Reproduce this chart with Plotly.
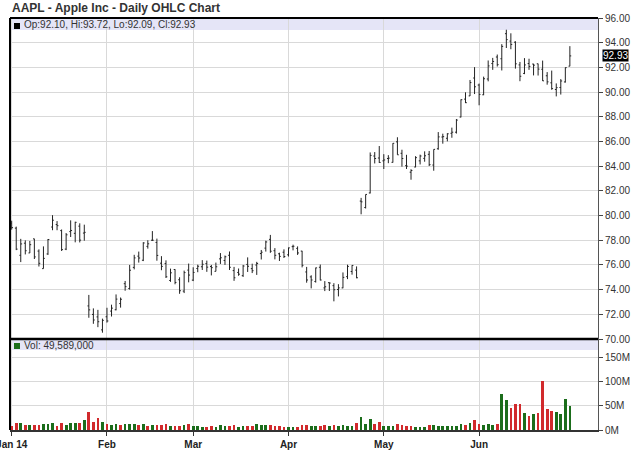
import plotly.graph_objects as go

# ---------------- data (AAPL daily, Jan-Jun 2014, split-adjusted prices) ----------------
dates_jan = ["2014-01-02", "2014-01-03", "2014-01-06", "2014-01-07", "2014-01-08", "2014-01-09",
             "2014-01-10", "2014-01-13", "2014-01-14", "2014-01-15", "2014-01-16", "2014-01-17",
             "2014-01-21", "2014-01-22", "2014-01-23", "2014-01-24", "2014-01-27", "2014-01-28",
             "2014-01-29", "2014-01-30", "2014-01-31"]
dates_feb = ["2014-02-03", "2014-02-04", "2014-02-05", "2014-02-06", "2014-02-07", "2014-02-10",
             "2014-02-11", "2014-02-12", "2014-02-13", "2014-02-14", "2014-02-18", "2014-02-19",
             "2014-02-20", "2014-02-21", "2014-02-24", "2014-02-25", "2014-02-26", "2014-02-27",
             "2014-02-28"]
dates_mar = ["2014-03-03", "2014-03-04", "2014-03-05", "2014-03-06", "2014-03-07", "2014-03-10",
             "2014-03-11", "2014-03-12", "2014-03-13", "2014-03-14", "2014-03-17", "2014-03-18",
             "2014-03-19", "2014-03-20", "2014-03-21", "2014-03-24", "2014-03-25", "2014-03-26",
             "2014-03-27", "2014-03-28", "2014-03-31"]
dates_apr = ["2014-04-01", "2014-04-02", "2014-04-03", "2014-04-04", "2014-04-07", "2014-04-08",
             "2014-04-09", "2014-04-10", "2014-04-11", "2014-04-14", "2014-04-15", "2014-04-16",
             "2014-04-17", "2014-04-21", "2014-04-22", "2014-04-23", "2014-04-24", "2014-04-25",
             "2014-04-28", "2014-04-29", "2014-04-30"]
dates_may = ["2014-05-01", "2014-05-02", "2014-05-05", "2014-05-06", "2014-05-07", "2014-05-08",
             "2014-05-09", "2014-05-12", "2014-05-13", "2014-05-14", "2014-05-15", "2014-05-16",
             "2014-05-19", "2014-05-20", "2014-05-21", "2014-05-22", "2014-05-23", "2014-05-27",
             "2014-05-28", "2014-05-29", "2014-05-30"]
dates_jun = ["2014-06-02", "2014-06-03", "2014-06-04", "2014-06-05", "2014-06-06", "2014-06-09",
             "2014-06-10", "2014-06-11", "2014-06-12", "2014-06-13", "2014-06-16", "2014-06-17",
             "2014-06-18", "2014-06-19", "2014-06-20", "2014-06-23", "2014-06-24", "2014-06-25",
             "2014-06-26", "2014-06-27", "2014-06-30"]

open_jan = [79.38, 78.98, 76.78, 77.76, 76.97, 78.11, 77.12, 75.70, 76.89, 79.07, 79.27, 78.78,
            77.28, 78.70, 78.56, 79.14, 78.58, 72.68, 71.99, 71.79, 70.74]
high_jan = [79.58, 79.10, 78.11, 77.99, 77.94, 78.12, 77.26, 77.50, 78.10, 80.03, 79.55, 78.87,
            78.58, 79.61, 79.50, 79.37, 79.26, 73.57, 72.48, 72.36, 71.65]
low_jan = [78.86, 77.20, 76.23, 76.85, 76.96, 76.48, 75.87, 75.70, 76.81, 78.81, 78.81, 77.13,
           77.20, 78.26, 77.83, 77.82, 77.96, 71.72, 71.23, 70.96, 70.51]
close_jan = [79.02, 77.28, 77.70, 77.15, 77.64, 76.65, 76.13, 76.53, 78.06, 79.62, 79.18, 77.24,
             78.44, 78.79, 79.45, 78.01, 78.64, 72.36, 71.54, 71.40, 71.51]

open_feb = [71.80, 72.26, 72.37, 72.87, 74.48, 74.09, 75.80, 76.71, 76.38, 77.50, 78.00, 77.82,
            76.14, 76.11, 74.74, 75.63, 74.80, 73.88, 75.58]
high_feb = [72.53, 72.78, 73.61, 73.36, 74.70, 76.00, 76.82, 77.08, 77.84, 78.00, 78.74, 78.13,
            76.71, 76.37, 75.70, 75.65, 75.00, 75.54, 76.11]
low_feb = [71.33, 71.82, 72.32, 72.54, 73.91, 74.00, 75.64, 76.19, 76.31, 77.32, 77.94, 76.34,
           75.57, 74.94, 74.63, 74.43, 73.66, 73.72, 74.59]
close_feb = [71.46, 72.50, 73.23, 73.22, 74.24, 75.57, 76.57, 76.56, 77.78, 77.71, 78.00, 76.77,
             75.88, 75.04, 75.36, 74.58, 73.91, 75.38, 75.18]

open_mar = [74.77, 75.71, 75.85, 76.11, 75.87, 75.48, 76.49, 76.36, 76.78, 75.54, 75.39, 75.13,
            76.04, 75.70, 75.99, 76.92, 77.36, 78.07, 77.15, 76.90, 77.03]
high_mar = [75.81, 76.02, 76.39, 76.35, 76.00, 76.19, 76.96, 76.76, 77.09, 75.84, 75.71, 76.00,
            76.61, 76.10, 76.25, 77.21, 77.96, 78.43, 77.36, 76.99, 77.26]
low_mar = [74.69, 75.41, 75.59, 75.44, 75.15, 75.48, 76.08, 76.00, 75.59, 74.71, 75.12, 75.03,
           75.43, 75.34, 75.19, 76.44, 77.08, 76.98, 76.45, 76.32, 76.56]
close_mar = [75.39, 75.89, 76.05, 75.82, 75.78, 75.85, 76.58, 76.66, 75.81, 74.96, 75.25, 75.91,
             75.89, 75.53, 76.12, 77.03, 77.86, 77.11, 76.78, 76.69, 76.68]

open_apr = [76.82, 77.48, 77.34, 77.12, 75.43, 75.03, 74.66, 75.81, 74.14, 74.56, 74.32, 74.01,
            74.14, 75.05, 75.47, 75.58, 81.17, 80.65, 81.83, 84.82, 84.66]
high_apr = [77.41, 77.64, 77.50, 77.14, 75.84, 75.16, 75.78, 76.03, 74.69, 74.59, 74.52, 74.44,
            75.39, 76.02, 75.98, 75.88, 81.43, 81.71, 85.11, 85.14, 85.63]
low_apr = [76.68, 77.18, 76.81, 75.80, 74.56, 74.10, 74.57, 74.74, 73.88, 73.89, 73.05, 73.45,
           74.11, 74.85, 75.21, 74.92, 80.10, 80.57, 81.79, 84.22, 84.26]
close_apr = [77.38, 77.51, 76.97, 75.97, 74.78, 74.78, 75.76, 74.78, 74.23, 74.53, 73.99, 74.14,
             74.99, 75.88, 75.96, 74.96, 81.11, 81.71, 84.87, 84.62, 84.30]

open_may = [84.43, 84.62, 84.31, 85.97, 85.04, 84.04, 83.51, 83.93, 84.43, 84.63, 84.96, 84.09,
            85.41, 86.36, 86.26, 86.66, 86.75, 87.98, 89.43, 89.69, 91.14]
high_may = [84.97, 84.89, 85.86, 86.34, 85.33, 84.92, 83.75, 84.81, 84.93, 85.20, 85.23, 85.36,
            86.76, 86.63, 86.67, 87.12, 87.82, 89.41, 89.98, 90.98, 92.02]
low_may = [83.77, 84.24, 84.29, 84.92, 83.96, 83.77, 82.90, 83.91, 84.14, 84.36, 84.01, 83.63,
           85.33, 85.82, 86.01, 86.30, 86.64, 87.95, 89.11, 89.68, 89.84]
close_may = [84.50, 84.65, 85.85, 84.92, 84.62, 84.00, 83.65, 84.69, 84.82, 84.84, 84.12, 85.36,
             86.37, 86.39, 86.62, 86.75, 87.73, 89.38, 89.14, 90.77, 90.43]

open_jun = [90.57, 89.78, 91.06, 92.31, 92.84, 92.70, 94.73, 94.13, 94.04, 92.20, 91.51, 92.31,
            92.27, 92.29, 91.85, 91.32, 90.75, 90.21, 90.37, 90.82, 92.10]
high_jun = [90.69, 91.25, 92.56, 92.77, 93.04, 93.88, 95.05, 94.76, 94.12, 92.44, 92.75, 92.70,
            92.29, 92.30, 92.55, 91.62, 91.74, 90.70, 91.05, 92.00, 93.72]
low_jun = [88.93, 89.75, 90.87, 91.80, 92.07, 91.75, 93.57, 93.47, 91.90, 90.88, 91.45, 91.80,
           91.35, 91.34, 90.90, 90.60, 90.19, 89.65, 89.80, 90.77, 92.09]
close_jun = [89.81, 91.08, 92.12, 92.48, 92.22, 93.70, 94.25, 93.86, 92.29, 91.28, 92.20, 92.08,
             92.18, 91.86, 90.91, 90.83, 90.28, 90.36, 90.90, 91.98, 92.93]

# volume in millions of shares
vol_jan = [8.4, 14.0, 14.7, 11.3, 9.7, 10.3, 10.6, 13.0, 11.5, 14.1, 8.3, 15.5, 11.0, 13.6, 14.4,
           15.5, 20.0, 37.9, 17.0, 24.2, 16.2]
vol_feb = [12.5, 10.5, 11.5, 9.4, 12.8, 12.6, 11.6, 10.4, 11.8, 8.6, 11.2, 10.6, 11.0, 12.6, 9.0,
           8.2, 9.2, 11.0, 12.3]
vol_mar = [8.2, 7.8, 7.2, 6.6, 7.9, 6.6, 9.4, 7.3, 8.4, 9.9, 6.6, 8.4, 8.2, 7.5, 11.5, 11.3, 9.6,
           9.8, 8.8, 7.8, 6.1]
vol_apr = [7.2, 6.7, 5.8, 9.5, 10.5, 8.5, 7.3, 8.6, 9.8, 7.8, 10.6, 7.8, 9.5, 7.7, 8.0, 14.0, 26.5,
           12.0, 23.0, 12.3, 16.5]
vol_may = [8.1, 8.6, 8.0, 11.5, 10.7, 8.3, 8.1, 6.7, 5.9, 6.5, 9.5, 11.0, 8.8, 7.6, 7.3, 7.6, 8.6,
           12.0, 10.4, 13.7, 20.8]
vol_jun = [13.2, 10.5, 12.0, 10.8, 12.5, 75.4, 62.8, 45.7, 54.7, 54.5, 35.6, 29.7, 33.6, 35.5,
           100.9, 43.7, 39.0, 36.9, 32.6, 64.0, 49.589]

month_tick_dates = ["2014-01-02", "2014-02-03", "2014-03-03", "2014-04-01", "2014-05-01", "2014-06-02"]
month_tick_labels = ["Jan 14", "Feb", "Mar", "Apr", "May", "Jun"]
price_ticks = [70, 72, 74, 76, 78, 80, 82, 84, 86, 88, 90, 92, 94, 96]
volume_ticks = [0, 50, 100, 150]

dates = dates_jan + dates_feb + dates_mar + dates_apr + dates_may + dates_jun
opens = open_jan + open_feb + open_mar + open_apr + open_may + open_jun
highs = high_jan + high_feb + high_mar + high_apr + high_may + high_jun
lows = low_jan + low_feb + low_mar + low_apr + low_may + low_jun
closes = close_jan + close_feb + close_mar + close_apr + close_may + close_jun
volumes = vol_jan + vol_feb + vol_mar + vol_apr + vol_may + vol_jun

# ---------------- styling ----------------
GREEN = "#1b6d1b"
RED = "#d12a2c"
GRID = "#d9d9d9"
BAND = "#e5e5f7"
W, H = 640, 468
ML, MR, MT, MB = 10, 42, 18, 38
plot_h = H - MT - MB
split = (H - MB - 339) / plot_h  # boundary between volume and price panels

vol_colors = []
for i, c in enumerate(closes):
    ref = closes[i - 1] if i > 0 else opens[i]
    vol_colors.append(GREEN if c >= ref else RED)

fig = go.Figure()
fig.add_trace(go.Ohlc(
    x=dates, open=opens, high=highs, low=lows, close=closes,
    xaxis="x", yaxis="y", tickwidth=0.3,
    increasing=dict(line=dict(color="#222222", width=1)),
    decreasing=dict(line=dict(color="#222222", width=1)),
    showlegend=False, hoverinfo="skip",
))
fig.add_trace(go.Bar(
    x=dates, y=volumes, marker=dict(color=vol_colors, line=dict(width=0)),
    xaxis="x", yaxis="y2", width=0.6, showlegend=False, hoverinfo="skip",
))

tick_font = dict(family="Arial, Liberation Sans, sans-serif", size=10, color="#333333")

fig.update_layout(
    width=W, height=H,
    margin=dict(l=ML, r=MR, t=MT, b=MB, autoexpand=False),
    paper_bgcolor="white", plot_bgcolor="white",
    bargap=0,
    xaxis=dict(
        type="category", anchor="y2", domain=[0, 1],
        range=[-0.37, 129.2],
        tickmode="array", tickvals=month_tick_dates,
        ticktext=["<b>%s</b>" % t for t in month_tick_labels],
        tickfont=dict(family="Arial, Liberation Sans, sans-serif", size=10, color="#222222"),
        showgrid=True, gridcolor=GRID, gridwidth=1,
        ticks="outside", ticklen=4, tickcolor="#333333",
        showline=True, linecolor="#333333", linewidth=2,
        rangeslider=dict(visible=False), fixedrange=True,
        zeroline=False,
    ),
    yaxis=dict(
        domain=[split, 1], anchor="x", side="right",
        range=[70, 96], tickmode="array", tickvals=price_ticks,
        tickformat=".2f", tickfont=tick_font,
        showgrid=True, gridcolor=GRID, gridwidth=1,
        ticks="outside", ticklen=4, tickcolor="#444444",
        showline=True, linecolor="#555555", linewidth=1,
        zeroline=False, fixedrange=True,
    ),
    yaxis2=dict(
        domain=[0, split], anchor="x", side="right",
        range=[0, 188], tickmode="array", tickvals=volume_ticks,
        ticktext=["%dM" % v for v in volume_ticks], tickfont=tick_font,
        showgrid=True, gridcolor=GRID, gridwidth=1,
        ticks="outside", ticklen=4, tickcolor="#444444",
        showline=True, linecolor="#555555", linewidth=1,
        zeroline=False, fixedrange=True,
    ),
)

band_price = 12 / plot_h
band_vol = 11 / plot_h
fig.add_shape(type="rect", xref="paper", yref="paper", x0=0, x1=1, y0=1 - band_price, y1=1,
              fillcolor=BAND, line=dict(width=0), layer="below")
fig.add_shape(type="rect", xref="paper", yref="paper", x0=0, x1=1, y0=split - band_vol, y1=split,
              fillcolor=BAND, line=dict(width=0), layer="below")
# frame lines
fig.add_shape(type="line", xref="paper", yref="paper", x0=0, x1=0, y0=0, y1=1,
              line=dict(color="#000000", width=2))
fig.add_shape(type="line", xref="paper", yref="paper", x0=0, x1=1, y0=1, y1=1,
              line=dict(color="#000000", width=2))
fig.add_shape(type="line", xref="paper", yref="paper", x0=0, x1=1, y0=split, y1=split,
              line=dict(color="#000000", width=2.5))
# legend marker squares (pixel-sized)
fig.add_shape(type="rect", xref="paper", yref="paper", xsizemode="pixel", ysizemode="pixel",
              xanchor=0, yanchor=1, x0=4, x1=10, y0=-5, y1=-11,
              fillcolor="#000000", line=dict(width=0))
fig.add_shape(type="rect", xref="paper", yref="paper", xsizemode="pixel", ysizemode="pixel",
              xanchor=0, yanchor=split, x0=4, x1=10, y0=-4, y1=-10,
              fillcolor=GREEN, line=dict(width=0))

legend_text = ("Op:%.2f, Hi:%.2f, Lo:%.2f, Cl:%.2f"
               % (opens[-1], highs[-1], lows[-1], closes[-1]))
vol_text = "Vol: %s" % format(int(round(volumes[-1] * 1e6)), ",")

fig.add_annotation(text="<b>AAPL - Apple Inc - Daily OHLC Chart</b>", xref="paper", yref="paper",
                   x=0, y=1 + 10 / plot_h, xanchor="left", yanchor="middle", showarrow=False,
                   font=dict(family="Arial, Liberation Sans, sans-serif", size=12, color="#333333"))
fig.add_annotation(text=legend_text, xref="paper", yref="paper",
                   x=0, y=1 - 6.5 / plot_h, xanchor="left", yanchor="middle", showarrow=False,
                   xshift=12,
                   font=dict(family="Arial, Liberation Sans, sans-serif", size=10, color="#333333"))
fig.add_annotation(text=vol_text, xref="paper", yref="paper",
                   x=0, y=split - 6 / plot_h, xanchor="left", yanchor="middle", showarrow=False,
                   xshift=12,
                   font=dict(family="Arial, Liberation Sans, sans-serif", size=10, color="#333333"))
fig.add_annotation(text="%.2f" % closes[-1], xref="paper", yref="y",
                   x=1, y=closes[-1], xanchor="left", yanchor="middle", showarrow=False,
                   xshift=4, bgcolor="#000000", borderpad=0,
                   font=dict(family="Arial, Liberation Sans, sans-serif", size=10, color="#ffffff"))

fig.write_html("out.html", config={"displayModeBar": False},
               post_script="document.body.style.margin='0px';document.body.style.padding='0px';")
